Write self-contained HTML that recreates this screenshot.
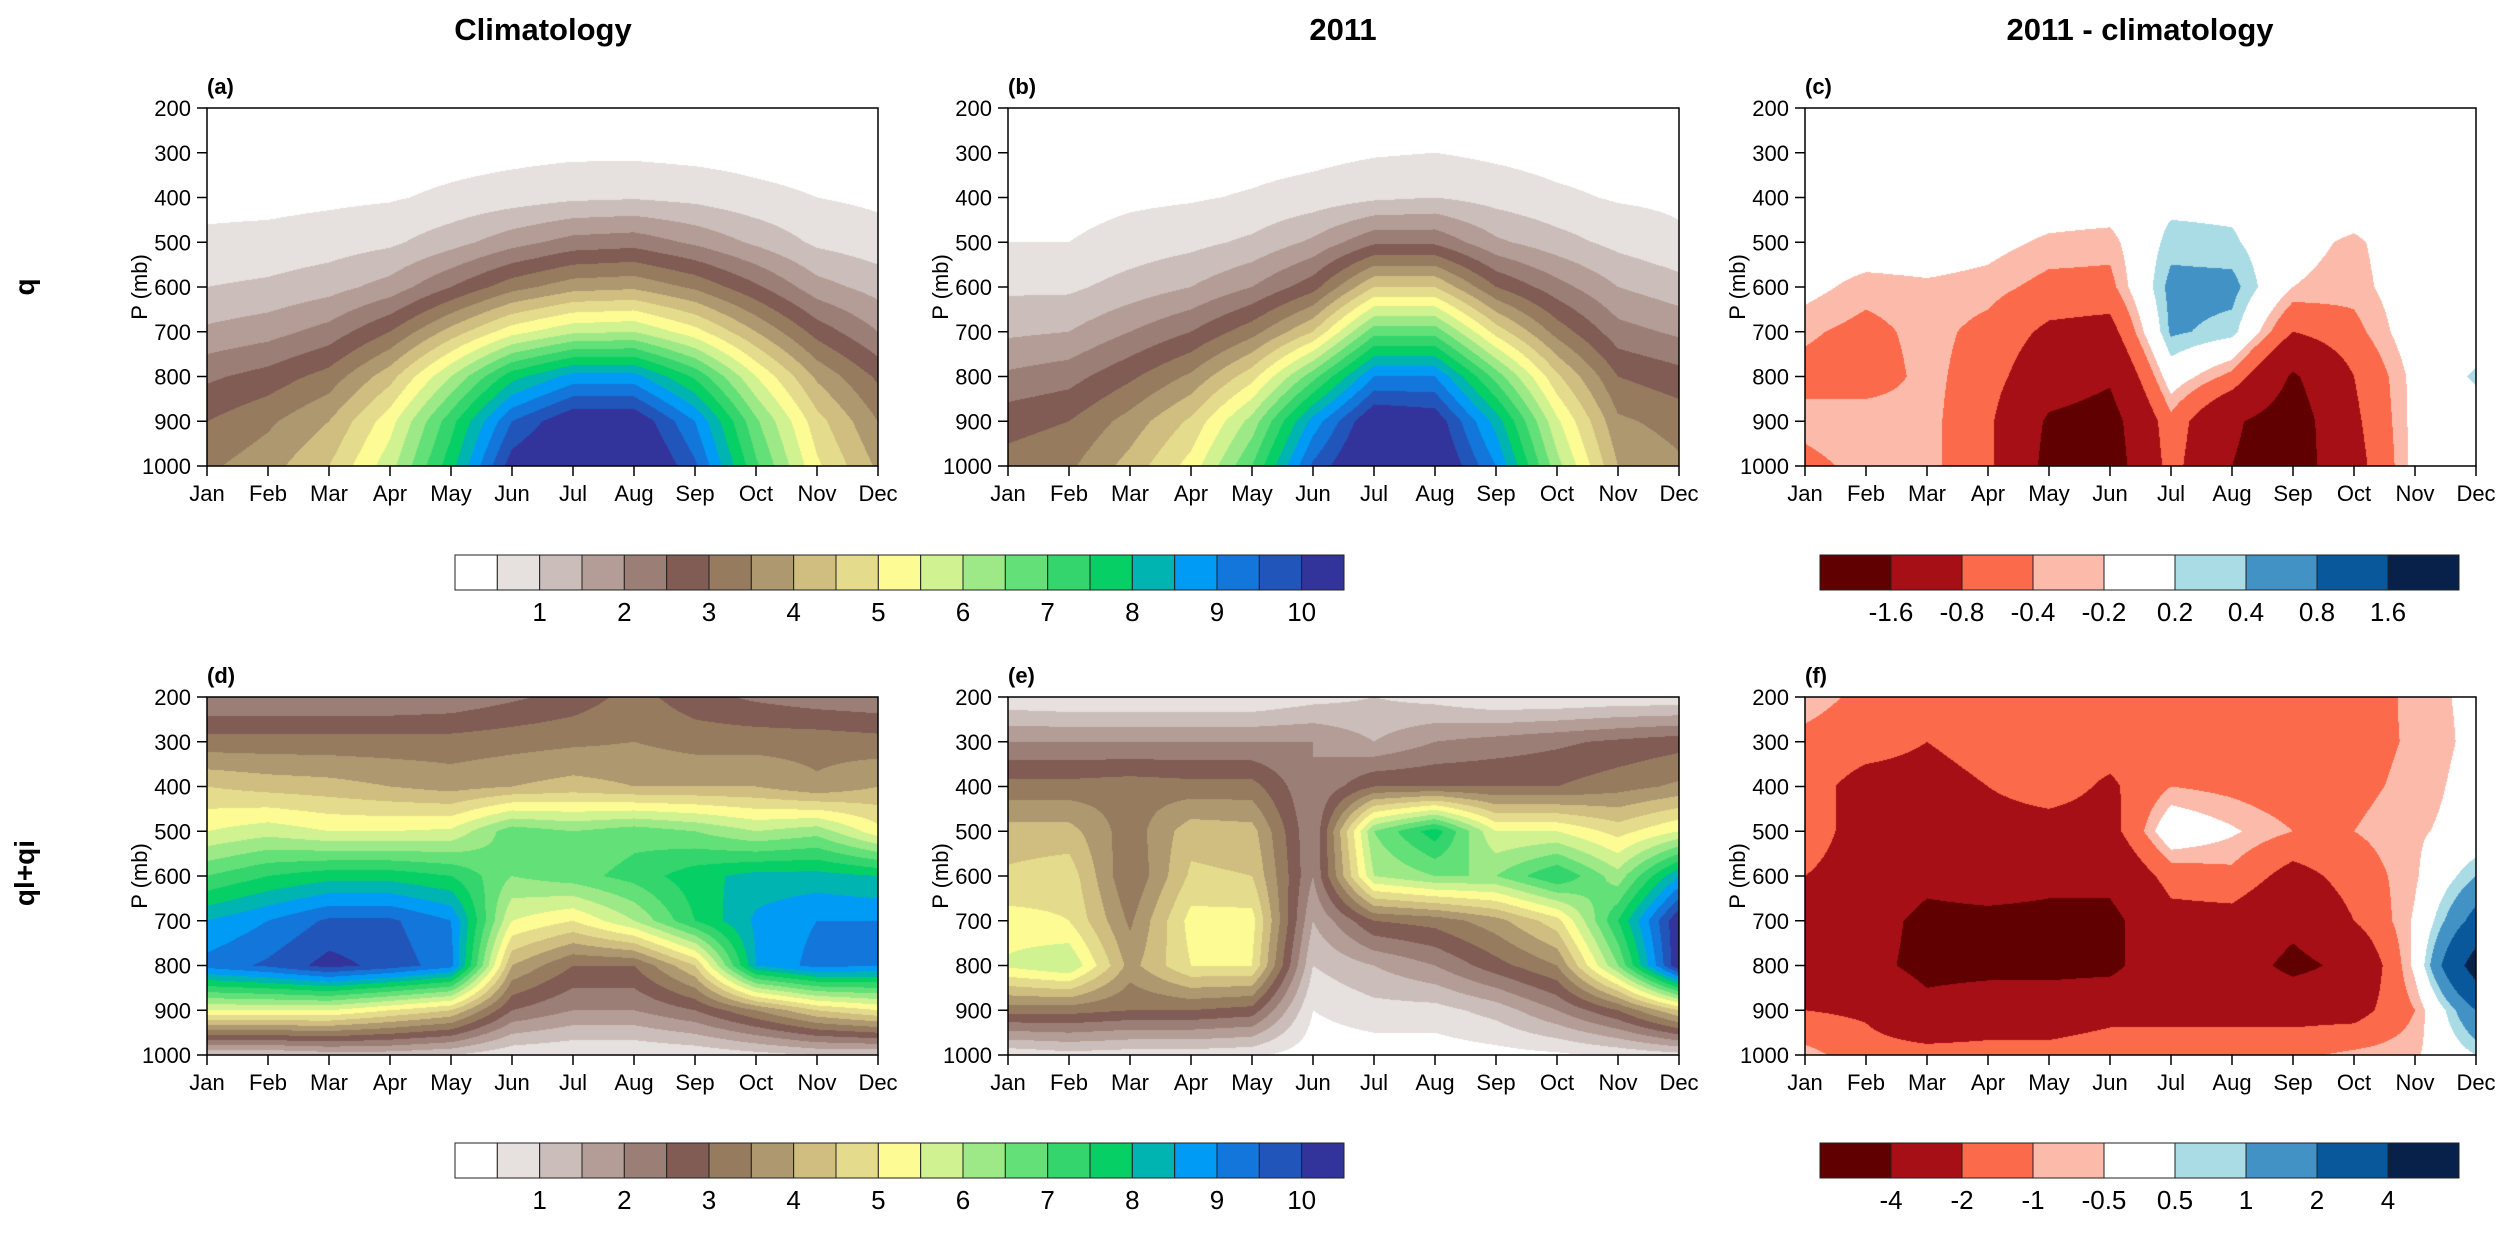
<!DOCTYPE html>
<html><head><meta charset="utf-8">
<style>
html,body{margin:0;padding:0;background:#fff;}
#root{position:relative;width:2500px;height:1240px;overflow:hidden;font-family:"Liberation Sans",sans-serif;}
canvas{position:absolute;}
svg{position:absolute;left:0;top:0;}
</style></head>
<body>
<div id="root">
<svg id="ov" width="2500" height="1240"></svg>
</div>
<script>
// ---- data ----
const months = ["Jan","Feb","Mar","Apr","May","Jun","Jul","Aug","Sep","Oct","Nov","Dec"];
const pressures = [200,300,400,500,600,700,800,900,1000];
const yTicks = [200,300,400,500,600,700,800,900,1000];
const seqLevels = [0.5,1,1.5,2,2.5,3,3.5,4,4.5,5,5.5,6,6.5,7,7.5,8,8.5,9,9.5,10];
const seqColors = ["#ffffff","#e6e0de","#cbbdb9","#b39d96","#9b7f77","#805c54","#967b5f","#ad9870","#cfbe80","#e4dc8c","#fdfb93","#d1f291","#9ee987","#63e077","#33d56c","#06cf66","#00b4b1","#009bf5","#1276da","#2255b9","#33349b"];
const seqLabels = ["1","2","3","4","5","6","7","8","9","10"];
const divColors = ["#600000","#a50f15","#fb6a4a","#fcbbaa","#ffffff","#aadce6","#4292c6","#08589b","#08214a"];
const qDiffLevels = [-1.6,-0.8,-0.4,-0.2,0.2,0.4,0.8,1.6];
const qDiffLabels = ["-1.6","-0.8","-0.4","-0.2","0.2","0.4","0.8","1.6"];
const cDiffLevels = [-4,-2,-1,-0.5,0.5,1,2,4];
const cDiffLabels = ["-4","-2","-1","-0.5","0.5","1","2","4"];

const qClim = [
[0.1,0.1,0.1,0.1,0.1,0.1,0.1,0.1,0.1,0.1,0.1,0.1],
[0.2,0.2,0.2,0.25,0.3,0.35,0.4,0.4,0.35,0.3,0.25,0.2],
[0.35,0.35,0.4,0.45,0.6,0.75,0.9,0.95,0.85,0.65,0.5,0.4],
[0.6,0.65,0.75,0.9,1.3,1.8,2.2,2.3,1.9,1.4,0.9,0.7],
[1.0,1.1,1.3,1.7,2.5,3.3,3.8,3.9,3.4,2.6,1.7,1.3],
[1.6,1.8,2.2,3.0,4.2,5.3,5.9,6.0,5.2,4.0,2.8,2.0],
[2.4,2.7,3.2,4.3,6.0,7.8,8.7,8.7,7.4,5.5,3.9,2.9],
[3.0,3.4,4.0,5.3,7.3,9.5,10.5,10.5,9.0,6.6,4.7,3.5],
[3.4,3.8,4.5,5.8,7.8,10.3,11,11,9.6,7.1,5.1,3.9]];
const q2011 = [
[0.1,0.1,0.1,0.1,0.1,0.1,0.1,0.1,0.1,0.1,0.1,0.1],
[0.15,0.15,0.2,0.25,0.3,0.35,0.45,0.5,0.4,0.3,0.25,0.2],
[0.3,0.3,0.4,0.45,0.55,0.7,0.9,1.0,0.8,0.6,0.45,0.4],
[0.5,0.5,0.7,0.85,1.1,1.6,2.4,2.4,1.6,1.2,0.85,0.6],
[0.9,0.9,1.2,1.5,2.0,2.8,4.5,4.5,3.0,2.2,1.5,1.2],
[1.4,1.5,2.0,2.5,3.3,4.5,6.8,6.8,4.8,3.3,2.2,1.9],
[2.1,2.3,2.9,3.6,4.8,6.8,9.0,9.0,6.8,4.6,3.0,2.7],
[2.8,3.0,3.7,4.6,6.2,8.7,10.6,10.4,8.3,5.6,3.6,3.3],
[3.2,3.4,4.2,5.2,7.0,9.6,11,10.8,9.0,6.2,4.0,3.6]];
const qDiff = [
[0,0,0,0,0,0,0,0,0,0,0,0],
[0,0,0,0,0,0,0,0,0,0,0,0],
[0,0,0,0,0,0,0.1,0.1,0,0,0,0],
[0,0,0,-0.1,-0.25,-0.3,0.3,0.25,-0.1,-0.25,0,0],
[-0.1,-0.3,-0.25,-0.3,-0.5,-0.5,0.5,0.5,-0.2,-0.3,0,0],
[-0.35,-0.5,-0.3,-0.5,-0.9,-1.0,0.45,0.3,-0.8,-0.5,0,0],
[-0.5,-0.6,-0.3,-0.6,-1.2,-1.5,0,-0.5,-1.7,-0.8,-0.1,0.25],
[-0.3,-0.2,-0.3,-0.7,-1.7,-1.9,-0.5,-1.5,-2.0,-0.9,-0.1,0],
[-0.5,-0.3,-0.3,-0.7,-1.8,-2.0,-0.6,-1.6,-2.0,-1.0,-0.1,0]];
const cClim = [
[2.0,2.0,2.0,2.0,2.1,2.4,2.7,3.2,2.7,2.4,2.2,2.1],
[3.2,3.2,3.2,3.2,3.2,3.3,3.4,3.5,3.3,3.3,3.3,3.2],
[4.5,4.3,4.2,4.0,3.8,4.0,4.2,4.0,4.0,4.0,3.6,4.0],
[5.5,5.8,5.5,5.5,5.6,6.8,6.5,6.8,6.5,6.0,6.3,5.2],
[7.0,7.5,7.8,7.8,7.5,6.5,6.8,7.2,7.8,8.2,8.2,8.0],
[8.5,9.0,9.6,9.6,9.0,5.5,5.0,6.0,7.5,8.6,9.0,9.0],
[9.2,9.6,10.2,9.8,9.2,4.0,3.0,3.0,4.5,8.5,9.2,9.0],
[5.5,5.5,5.5,5.0,4.5,2.5,2.0,2.0,2.5,3.5,4.5,5.0],
[1.0,1.0,1.2,1.2,1.0,0.6,0.5,0.5,0.6,0.8,1.0,1.0]];
const c2011 = [
[0.6,0.5,0.5,0.5,0.5,0.8,1.0,0.8,0.5,0.5,0.6,0.6],
[2.0,2.0,2.0,2.0,2.0,2.0,1.5,2.0,2.2,2.4,2.6,2.8],
[3.2,3.2,3.3,3.2,3.2,2.0,3.0,3.0,3.0,3.0,3.3,3.6],
[4.2,4.2,3.2,4.3,4.2,2.0,6.5,7.8,5.5,5.5,4.8,5.5],
[4.6,4.8,3.0,4.6,4.5,2.0,6.0,6.5,6.5,7.5,6.2,8.5],
[5.2,5.0,3.4,5.2,5.2,1.5,3.0,3.2,3.8,4.8,7.5,10.5],
[5.6,6.0,3.8,5.0,5.0,1.0,1.5,2.0,2.8,3.5,6.5,10.5],
[3.2,3.2,3.0,3.0,2.8,0.5,0.8,0.8,1.2,2.0,3.0,4.5],
[0.6,0.8,0.7,0.7,0.6,0.2,0.2,0.2,0.3,0.4,0.6,0.8]];
const cDiff = [
[-0.7,-1.2,-1.5,-1.5,-1.5,-1.5,-2.0,-2.0,-1.5,-1.5,-0.8,-0.3],
[-1.2,-1.5,-2.0,-1.5,-1.5,-1.5,-1.5,-1.5,-1.5,-1.3,-0.9,-0.3],
[-1.5,-2.5,-2.5,-2.0,-1.5,-2.2,-1.0,-1.2,-1.5,-1.2,-0.8,-0.2],
[-1.5,-2.5,-2.5,-2.5,-2.5,-2.5,0.2,-0.4,-1.0,-1.0,-0.6,-0.2],
[-2.0,-2.5,-3.5,-3.0,-3.5,-3.5,-1.5,-1.2,-2.5,-1.5,-0.6,1.0],
[-3.0,-3.2,-4.5,-4.5,-4.5,-4.5,-2.5,-2.5,-3.5,-2.0,-0.4,2.5],
[-3.5,-3.5,-4.5,-4.5,-4.5,-4.5,-2.5,-3.0,-4.5,-3.5,-0.3,5],
[-2.0,-2.2,-3.5,-3.0,-3.0,-2.5,-2.5,-2.5,-2.5,-2.5,-1.0,2.0],
[-0.7,-1.5,-1.5,-1.5,-1.5,-1.2,-1.2,-1.2,-1.2,-0.8,-0.6,0.5]];

// ---- layout ----
const NS="http://www.w3.org/2000/svg";
const ov=document.getElementById('ov');
const root=document.getElementById('root');
function el(tag,attrs,parent){const e=document.createElementNS(NS,tag);for(const k in attrs)e.setAttribute(k,attrs[k]);(parent||ov).appendChild(e);return e;}
function txt(s,x,y,size,anchor,weight,parent,extra){const t=el('text',Object.assign({x:x,y:y,'font-size':size,'text-anchor':anchor||'middle','font-weight':weight||'normal','font-family':'Liberation Sans, sans-serif',fill:'#000'},extra||{}),parent);t.textContent=s;return t;}
function levelIndex(v,levels){let i=0;while(i<levels.length&&v>=levels[i])i++;return i;}
function hex(c){return [parseInt(c.slice(1,3),16),parseInt(c.slice(3,5),16),parseInt(c.slice(5,7),16)];}

const colX=[207,1008,1805], W=671;
const rowY=[108,697], H=358;
const panels=[
 {id:'a',data:qClim,lev:seqLevels,col:seqColors,c:0,r:0},
 {id:'b',data:q2011,lev:seqLevels,col:seqColors,c:1,r:0},
 {id:'c',data:qDiff,lev:qDiffLevels,col:divColors,c:2,r:0},
 {id:'d',data:cClim,lev:seqLevels,col:seqColors,c:0,r:1},
 {id:'e',data:c2011,lev:seqLevels,col:seqColors,c:1,r:1},
 {id:'f',data:cDiff,lev:cDiffLevels,col:divColors,c:2,r:1}];

function xScale(x0,i){return x0+i*W/(months.length-1);}
function yScale(y0,p){return y0+(p-200)/800*H;}

panels.forEach(P=>{
 const x0=colX[P.c],y0=rowY[P.r];
 const cv=document.createElement('canvas');
 cv.width=W;cv.height=H;cv.style.left=x0+'px';cv.style.top=y0+'px';
 
 
 root.insertBefore(cv,ov);
 const ctx=cv.getContext('2d');const img=ctx.createImageData(W,H);
 const rgb=P.col.map(hex);
 const nx=months.length,ny=pressures.length;
 for(let py=0;py<H;py++){
  const pv=200+(py+0.5)/H*800;
  let j=Math.min(ny-2,Math.floor((pv-200)/100));const ty=(pv-pressures[j])/100;
  for(let px=0;px<W;px++){
   const fx=(px+0.5)/W*(nx-1);let i=Math.min(nx-2,Math.floor(fx));const tx=fx-i;
   const d=P.data;
   const v=(d[j][i]*(1-tx)+d[j][i+1]*tx)*(1-ty)+(d[j+1][i]*(1-tx)+d[j+1][i+1]*tx)*ty;
   const c=rgb[levelIndex(v,P.lev)];const o=(py*W+px)*4;
   img.data[o]=c[0];img.data[o+1]=c[1];img.data[o+2]=c[2];img.data[o+3]=255;
  }
 }
 ctx.putImageData(img,0,0);
 const g=el('g',{});
 const frame=el('rect',{x:x0,y:y0,width:W,height:H,fill:'none',stroke:'#000','stroke-width':1.5},g);
 
 
 yTicks.forEach(p=>{const y=yScale(y0,p);
  el('line',{x1:x0-10,x2:x0,y1:y,y2:y,stroke:'#000','stroke-width':1.5},g);
  const t=txt(String(p),x0-16,y+8,22,'end','normal',g);
  
  });
 months.forEach((m,i)=>{const x=xScale(x0,i);
  el('line',{x1:x,x2:x,y1:y0+H,y2:y0+H+10,stroke:'#000','stroke-width':1.5},g);
  const t=txt(m,x,y0+H+35,22,'middle','normal',g);
  
  });
 const yt=txt('P (mb)',0,0,22,'middle','normal',g,{transform:'translate('+(x0-60)+','+(y0+H/2)+') rotate(-90)'});
 
 
 const pl=txt('('+P.id+')',x0,y0-14,22,'start','bold',g);
 
 
});

// column titles and row labels
[["Climatology",543],["2011",1343],["2011 - climatology",2140]].forEach(([s,x])=>{
 const t=txt(s,x,40,31,'middle','bold');
 
 });
[["q",287],["ql+qi",873]].forEach(([s,y])=>{
 const t=txt(s,0,0,28,'middle','bold',ov,{transform:'translate(34,'+y+') rotate(-90)'});
 
 });

// colorbars
function colorbar(x0,x1,y,h,colors,name){
 const g=el('g',{});
 
 
 const bw=(x1-x0)/colors.length;
 colors.forEach((c,i)=>{el('rect',{x:x0+i*bw,y:y,width:bw,height:h,fill:c,stroke:'#222','stroke-width':1},g);});
 return {g,bw};
}
function seqBar(y){
 const {g,bw}=colorbar(455,1344,y,35,seqColors,'colorbar-sequential');
 seqLabels.forEach((s,k)=>{const t=txt(s,455+(2*k+2)*bw,y+66,26,'middle','normal',g);
  
  });
}
function divBar(y,labels){
 const {g,bw}=colorbar(1820,2459,y,35,divColors,'colorbar-difference');
 labels.forEach((s,k)=>{const t=txt(s,1820+(k+1)*bw,y+66,26,'middle','normal',g);
  
  });
}
seqBar(555);seqBar(1143);
divBar(555,qDiffLabels);divBar(1143,cDiffLabels);
</script>
</body></html>
